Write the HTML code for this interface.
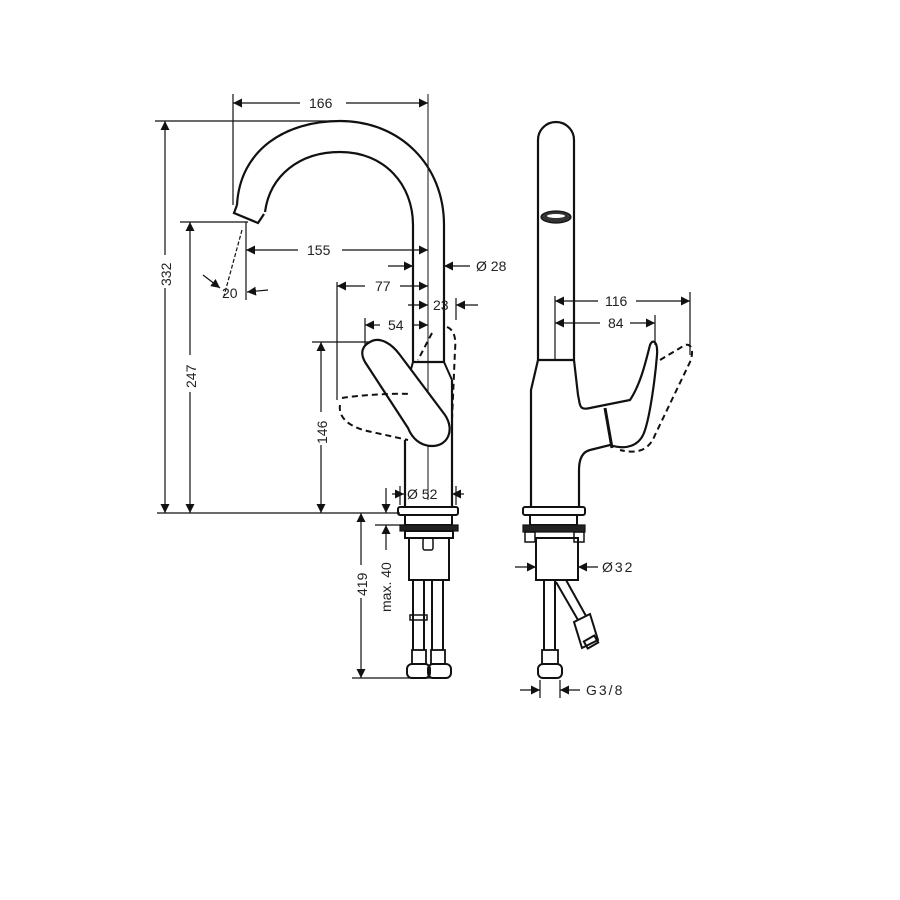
<!DOCTYPE html>
<html><head><meta charset="utf-8"><style>
html,body{margin:0;padding:0;background:#fff;width:900px;height:900px;overflow:hidden}
svg text{font-family:"Liberation Sans",sans-serif;font-size:14px;fill:#222}
</style></head><body>
<svg width="900" height="900" viewBox="0 0 900 900" xmlns="http://www.w3.org/2000/svg">
<defs>
<marker id="a" viewBox="0 0 10 10" refX="10" refY="5" markerWidth="9" markerHeight="9" orient="auto-start-reverse" markerUnits="userSpaceOnUse"><path d="M0,0 L10,5 L0,10 z" fill="#111"/></marker>
</defs>
<g stroke="#111" fill="none" stroke-width="1.2">
<line x1="233" y1="94" x2="233" y2="205"/>
<line x1="428" y1="94" x2="428" y2="500" stroke-width="1"/>
<line x1="155" y1="121" x2="340" y2="121"/>
<line x1="180" y1="222" x2="248" y2="222"/>
<line x1="246" y1="222" x2="246" y2="300"/>
<line x1="337" y1="282" x2="337" y2="400"/>
<line x1="365" y1="318" x2="365" y2="350"/>
<line x1="312" y1="342" x2="370" y2="342"/>
<line x1="157" y1="513" x2="400" y2="513"/>
<line x1="352" y1="678" x2="440" y2="678"/>
<line x1="375" y1="525" x2="410" y2="525"/>
<line x1="456" y1="298" x2="456" y2="320"/>
<line x1="233" y1="103" x2="300" y2="103" marker-start="url(#a)"/>
<line x1="346" y1="103" x2="428" y2="103" marker-end="url(#a)"/>
<line x1="165" y1="121" x2="165" y2="255" marker-start="url(#a)"/>
<line x1="165" y1="288" x2="165" y2="513" marker-end="url(#a)"/>
<line x1="190" y1="222" x2="190" y2="355" marker-start="url(#a)"/>
<line x1="190" y1="392" x2="190" y2="513" marker-end="url(#a)"/>
<line x1="246" y1="250" x2="298" y2="250" marker-start="url(#a)"/>
<line x1="342" y1="250" x2="428" y2="250" marker-end="url(#a)"/>
<line x1="388" y1="266" x2="413" y2="266" marker-end="url(#a)"/>
<line x1="470" y1="266" x2="444" y2="266" marker-end="url(#a)"/>
<line x1="337" y1="286" x2="365" y2="286" marker-start="url(#a)"/>
<line x1="400" y1="286" x2="428" y2="286" marker-end="url(#a)"/>
<line x1="408" y1="305" x2="428" y2="305" marker-end="url(#a)"/>
<line x1="478" y1="305" x2="456" y2="305" marker-end="url(#a)"/>
<line x1="365" y1="325" x2="380" y2="325" marker-start="url(#a)"/>
<line x1="412" y1="325" x2="428" y2="325" marker-end="url(#a)"/>
<line x1="321" y1="342" x2="321" y2="412" marker-start="url(#a)"/>
<line x1="321" y1="445" x2="321" y2="513" marker-end="url(#a)"/>
<line x1="242" y1="230" x2="224" y2="296" stroke-dasharray="4,2"/>
<line x1="203" y1="275" x2="220" y2="288" marker-end="url(#a)"/>
<line x1="268" y1="290" x2="247" y2="292" marker-end="url(#a)"/>
<line x1="386" y1="488" x2="386" y2="513" marker-end="url(#a)"/>
<line x1="386" y1="550" x2="386" y2="525" marker-end="url(#a)"/>
<line x1="361" y1="513" x2="361" y2="565" marker-start="url(#a)"/>
<line x1="361" y1="598" x2="361" y2="678" marker-end="url(#a)"/>
<line x1="400" y1="486" x2="400" y2="505"/><line x1="456" y1="486" x2="456" y2="505"/>
<line x1="392" y1="494" x2="404" y2="494" marker-end="url(#a)"/>
<line x1="464" y1="494" x2="452" y2="494" marker-end="url(#a)"/>
<!-- left faucet -->
<path d="M237,205 C240,150 285,121 340,121 C400,121 444,165 444,225 L444,362" stroke-width="2.2"/>
<path d="M265,212 C270,175 300,152 340,152 C385,152 413,185 413,225 L413,362" stroke-width="2.2"/>
<path d="M237,205 L234,213 L258,223 L264,214" stroke-width="2.2"/>
<line x1="413" y1="362" x2="444" y2="362" stroke-width="2.2"/>
<path d="M405,440 L405,507 M452,380 L452,507" stroke-width="2.2"/>
<path d="M413,362 L408,380 M444,362 L452,380" stroke-width="2"/>
<path d="M370,342 C380,336 392,344 400,355 L445,415 C455,430 448,446 432,446 C420,446 412,438 408,428 L365,362 C360,353 362,346 370,342 Z" stroke-width="2.2" fill="#fff"/>
<path d="M342,398 C360,395 395,393 410,394 M340,405 C338,418 350,428 372,432 L408,440" stroke-dasharray="6,4" stroke-width="2"/>
<path d="M432,333 L418,360 M447,327 C455,330 456,340 455,350 L452,420" stroke-dasharray="6,4" stroke-width="2"/>
<rect x="398" y="507" width="60" height="8" rx="2" stroke-width="2"/>
<rect x="405" y="515" width="47" height="10" stroke-width="2"/>
<rect x="400" y="525" width="58" height="6" fill="#222"/>
<rect x="405" y="531" width="48" height="7" stroke-width="2"/>
<rect x="409" y="538" width="40" height="42" stroke-width="2"/>
<rect x="423" y="538" width="10" height="12" rx="2" stroke-width="1.5"/>
<path d="M413,580 V650 M424,580 V650 M432,580 V650 M443,580 V650" stroke-width="2"/>
<rect x="410" y="615" width="17" height="5" stroke-width="1.5"/>
<rect x="412" y="650" width="14" height="14" stroke-width="1.8"/>
<rect x="431" y="650" width="14" height="14" stroke-width="1.8"/>
<rect x="407" y="664" width="23" height="14" rx="5" stroke-width="2"/>
<rect x="428" y="664" width="23" height="14" rx="5" stroke-width="2"/>
<!-- right faucet -->
<path d="M538,360 V140 A18,18 0 0 1 574,140 V360" stroke-width="2.2"/>
<line x1="538" y1="360" x2="574" y2="360" stroke-width="2.2"/>
<ellipse cx="556" cy="217" rx="15" ry="6" fill="#333"/>
<ellipse cx="556" cy="216" rx="9" ry="2" fill="#fff" stroke="none"/>
<path d="M538,360 L531,390 L531,507 M574,360 L578,395 L579,400 C580,408 582,410 590,408 L630,400 C640,385 645,365 650,345 C653,338 658,342 657,355 C655,380 650,415 645,430 C640,447 625,450 610,445 L590,450 C582,452 579,460 579,470 L579,507" stroke-width="2.2"/>
<path d="M605,408 L612,448" stroke-width="3"/>
<path d="M660,360 L685,345 C692,343 694,352 690,362 L655,435 C650,448 640,455 620,450" stroke-dasharray="6,4" stroke-width="2"/>
<line x1="555" y1="296" x2="555" y2="360"/>
<line x1="690" y1="292" x2="690" y2="355"/>
<line x1="655" y1="315" x2="655" y2="345"/>
<line x1="555" y1="301" x2="598" y2="301" marker-start="url(#a)"/>
<line x1="636" y1="301" x2="690" y2="301" marker-end="url(#a)"/>
<line x1="555" y1="323" x2="600" y2="323" marker-start="url(#a)"/>
<line x1="630" y1="323" x2="655" y2="323" marker-end="url(#a)"/>
<rect x="523" y="507" width="62" height="8" rx="2" stroke-width="2"/>
<rect x="530" y="515" width="47" height="10" stroke-width="2"/>
<rect x="523" y="525" width="62" height="7" fill="#222"/>
<rect x="525" y="532" width="10" height="10" stroke-width="1.5"/>
<rect x="574" y="532" width="10" height="10" stroke-width="1.5"/>
<rect x="536" y="538" width="42" height="42" stroke-width="2"/>
<line x1="515" y1="567" x2="536" y2="567" marker-end="url(#a)"/>
<line x1="598" y1="567" x2="578" y2="567" marker-end="url(#a)"/>
<path d="M544,580 V650 M555,580 V650" stroke-width="2"/>
<rect x="542" y="650" width="16" height="14" stroke-width="1.8"/>
<rect x="538" y="664" width="24" height="14" rx="5" stroke-width="2"/>
<path d="M556,582 L578,620 M566,580 L586,616" stroke-width="2"/>
<path d="M574,622 L590,614 L598,640 L582,648 Z" stroke-width="2"/>
<rect x="585" y="638" width="12" height="8" transform="rotate(-30 591 642)" stroke-width="2"/>
<line x1="540" y1="680" x2="540" y2="698"/>
<line x1="560" y1="680" x2="560" y2="698"/>
<line x1="520" y1="690" x2="540" y2="690" marker-end="url(#a)"/>
<line x1="580" y1="690" x2="560" y2="690" marker-end="url(#a)"/>
</g>
<text x="309" y="108">166</text>
<text x="307" y="255">155</text>
<text x="375" y="291">77</text>
<text x="388" y="330">54</text>
<text x="433" y="310">23</text>
<text x="476" y="271">Ø 28</text>
<text x="222" y="298">20</text>
<text x="407" y="499" font-size="13">Ø 52</text>
<text x="605" y="306">116</text>
<text x="608" y="328">84</text>
<text x="602" y="572" letter-spacing="2">Ø32</text>
<text x="586" y="695" letter-spacing="2">G3/8</text>
<text transform="translate(171,286) rotate(-90)">332</text>
<text transform="translate(196,388) rotate(-90)">247</text>
<text transform="translate(327,444) rotate(-90)">146</text>
<text transform="translate(367,596) rotate(-90)">419</text>
<text transform="translate(391,612) rotate(-90)">max. 40</text>
</svg>
</body></html>
